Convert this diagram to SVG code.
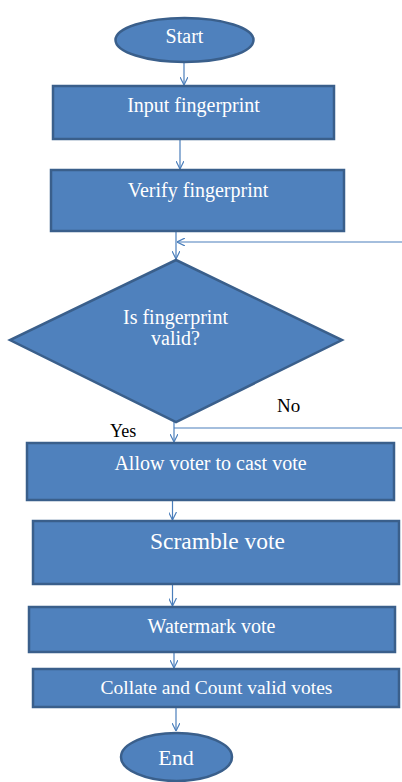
<svg xmlns="http://www.w3.org/2000/svg" width="402" height="782" viewBox="0 0 402 782">
<style>
.n{fill:#4F81BD;stroke:#3A5F8B;stroke-width:2.5}
.t{fill:#ffffff;font-family:"Liberation Serif","Times New Roman",serif;text-anchor:middle}
.l{fill:#000000;font-family:"Liberation Serif","Times New Roman",serif}
.c{fill:none;stroke:#4A7EBB;stroke-width:1.2}
</style>
<defs>
<marker id="ah" viewBox="0 0 10 10" refX="10" refY="5" markerWidth="8" markerHeight="8" orient="auto" markerUnits="userSpaceOnUse">
<path d="M0,0 L10,5 L0,10" fill="none" stroke="#4A7EBB" stroke-width="1.5"/>
</marker>
</defs>
<rect width="402" height="782" fill="#ffffff"/>
<g id="connectors">
<line class="c" x1="184" y1="62" x2="184" y2="85" marker-end="url(#ah)"/>
<line class="c" x1="180" y1="139" x2="180" y2="169" marker-end="url(#ah)"/>
<line class="c" x1="176" y1="231" x2="176" y2="259" marker-end="url(#ah)"/>
<line class="c" x1="402" y1="242" x2="177" y2="242" marker-end="url(#ah)"/>
<line class="c" x1="174" y1="422" x2="174" y2="442" marker-end="url(#ah)"/>
<line class="c" x1="174" y1="428" x2="402" y2="428"/>
<line class="c" x1="172.5" y1="500" x2="172.5" y2="520" marker-end="url(#ah)"/>
<line class="c" x1="172.5" y1="584" x2="172.5" y2="606" marker-end="url(#ah)"/>
<line class="c" x1="174" y1="652" x2="174" y2="668" marker-end="url(#ah)"/>
<line class="c" x1="176" y1="707" x2="176" y2="731" marker-end="url(#ah)"/>
</g>
<g id="start">
<ellipse class="n" cx="184.5" cy="40" rx="69" ry="22"/>
<text class="t" x="184.5" y="43" font-size="20">Start</text>
</g>
<g id="input">
<rect class="n" x="53" y="86" width="281" height="53"/>
<text class="t" x="193.5" y="112" font-size="20">Input fingerprint</text>
</g>
<g id="verify">
<rect class="n" x="51" y="170" width="293" height="61"/>
<text class="t" x="198" y="196.5" font-size="20">Verify fingerprint</text>
</g>
<g id="decision">
<polygon class="n" points="176,260 342,340 176,422 10,340"/>
<text class="t" x="175.5" y="324" font-size="20">Is fingerprint</text>
<text class="t" x="175.5" y="345" font-size="20">valid?</text>
</g>
<g id="labels">
<text class="l" x="277" y="412" font-size="19">No</text>
<text class="l" x="110" y="437" font-size="18">Yes</text>
</g>
<g id="allow">
<rect class="n" x="27" y="443" width="367" height="57"/>
<text class="t" x="210.5" y="470" font-size="20">Allow voter to cast vote</text>
</g>
<g id="scramble">
<rect class="n" x="33" y="521" width="366" height="63"/>
<text class="t" x="217.5" y="549" font-size="23.5">Scramble vote</text>
</g>
<g id="watermark">
<rect class="n" x="29" y="607" width="366" height="45"/>
<text class="t" x="211.5" y="633" font-size="20">Watermark vote</text>
</g>
<g id="collate">
<rect class="n" x="33" y="669" width="366" height="38"/>
<text class="t" x="216.5" y="694" font-size="19.5">Collate and Count valid votes</text>
</g>
<g id="end">
<ellipse class="n" cx="176.5" cy="757" rx="55.5" ry="24"/>
<text class="t" x="176" y="765" font-size="22">End</text>
</g>
</svg>
